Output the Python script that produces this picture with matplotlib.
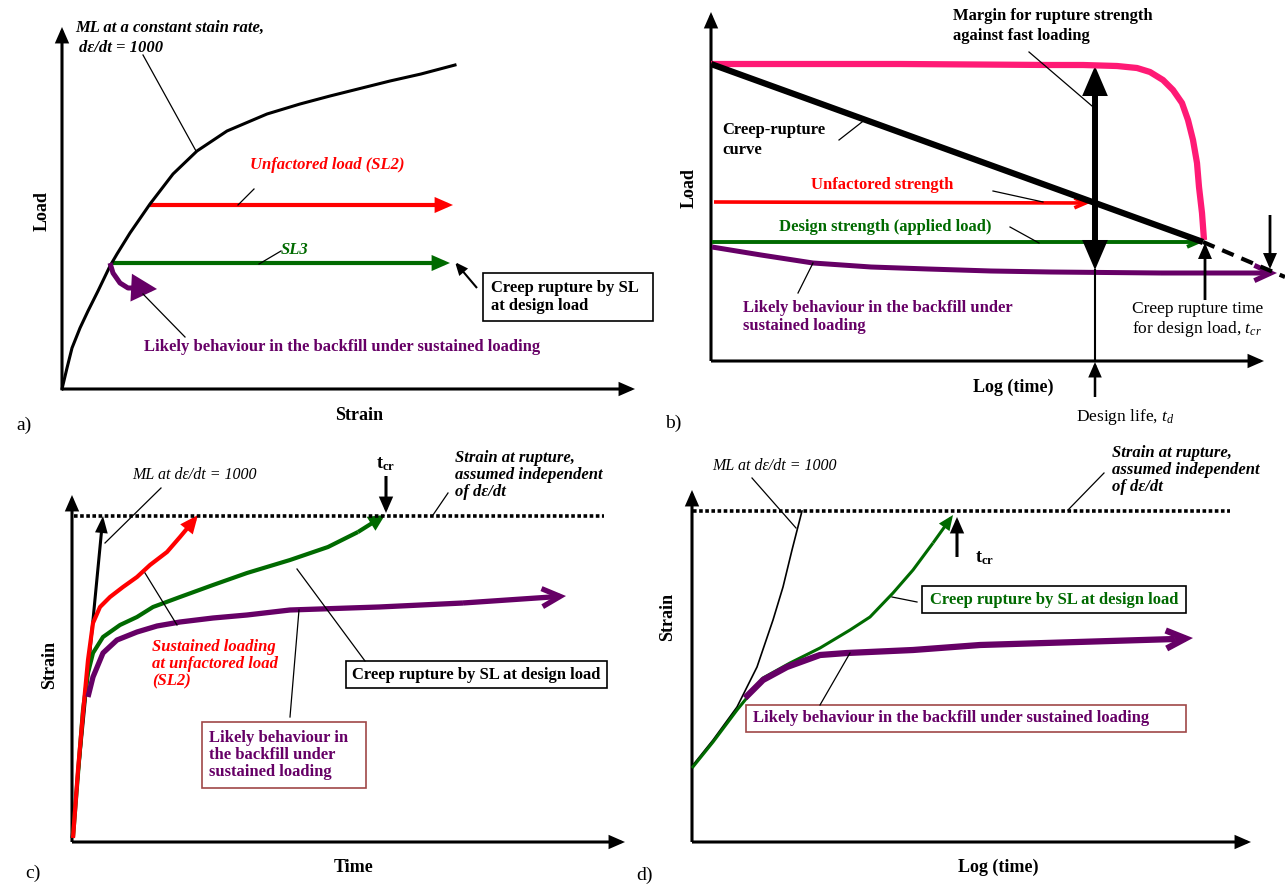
import numpy as np
import matplotlib
matplotlib.use("Agg")
import matplotlib.pyplot as plt
from matplotlib.patches import FancyArrowPatch, ArrowStyle, Rectangle

plt.rcParams['font.family'] = ['Liberation Serif', 'DejaVu Serif']
plt.rcParams['mathtext.fontset'] = 'custom'
plt.rcParams['mathtext.rm'] = 'Liberation Serif'
plt.rcParams['mathtext.it'] = 'Liberation Serif:italic'
plt.rcParams['mathtext.bf'] = 'Liberation Serif:bold'
plt.rcParams['lines.solid_joinstyle'] = 'round'

RED = '#ff0000'
GREEN = '#006a00'
PURPLE = '#660066'
PINK = '#ff1a75'
BOXRED = '#a04848'

# ---- schematic data (units: pixels from each panel's origin, y up) ----
# a) load vs strain
a_ml_strain = [0, 5, 10, 18, 26, 36, 48, 55, 68, 88, 111, 135, 165, 205, 238, 268, 296, 328, 359, 393]
a_ml_load = [0, 21, 41, 61, 78, 98, 123, 135, 156, 185, 215, 238, 258, 275, 285, 293, 300, 308, 315, 324]
a_sl2_strain = [88, 391]
a_sl2_load = [184, 184]
a_sl3_strain = [50, 388]
a_sl3_load = [126, 126]
a_backfill_strain = [48, 51, 58, 66, 76, 95]
a_backfill_load = [126, 116, 106, 101, 101, 100]

# b) load vs log(time)
b_fast_t = [0, 189, 339, 372, 406, 426, 439, 452, 462, 471, 477, 482, 486, 488, 491, 493]
b_fast_load = [297, 297, 296, 296, 295, 293, 289, 281, 271, 258, 241, 221, 198, 174, 148, 121]
b_creep_t = [0, 492]
b_creep_load = [297, 119]
b_creep_ext_t = [492, 574]
b_creep_ext_load = [119, 84]
b_unfact_t = [3, 379]
b_unfact_load = [159, 158]
b_design_t = [1, 492]
b_design_load = [119, 119]
b_backfill_t = [1, 50, 102, 160, 217, 280, 340, 450, 566]
b_backfill_load = [114, 106, 98, 94, 92, 90, 89, 88, 88]
b_td = 384
b_tcr = 494

# c) strain vs time
c_rupture = 326
c_ml_t = [0, 31]
c_ml_strain = [4, 326]
c_sl2_t = [1, 6, 11, 16, 21, 28, 38, 51, 65, 78, 95, 108, 118, 126]
c_sl2_strain = [4, 72, 129, 182, 219, 235, 245, 255, 265, 277, 290, 305, 317, 327]
c_sl3_t = [1, 11, 16, 21, 31, 48, 65, 81, 108, 141, 175, 218, 256, 286, 313]
c_sl3_strain = [5, 132, 169, 189, 205, 217, 225, 235, 245, 257, 269, 282, 295, 310, 327]
c_backfill_t = [16, 21, 31, 45, 65, 85, 108, 141, 175, 218, 307, 391, 494]
c_backfill_strain = [145, 165, 189, 202, 210, 216, 220, 224, 227, 232, 235, 239, 246]
c_tcr = 314

# d) strain vs log(time)
d_rupture = 331
d_ml_t = [1, 21, 45, 65, 81, 91, 100, 110]
d_ml_strain = [77, 102, 135, 175, 222, 255, 292, 331]
d_sl3_t = [0, 21, 45, 71, 98, 128, 158, 178, 201, 221, 241, 261]
d_sl3_strain = [74, 100, 132, 164, 179, 194, 212, 225, 249, 272, 299, 327]
d_backfill_t = [53, 71, 95, 128, 155, 221, 288, 483, 501]
d_backfill_strain = [144, 162, 175, 187, 189, 192, 197, 203, 204]
d_tcr = 265

W, H = 1285, 884
fig = plt.figure(figsize=(W / 100, H / 100), dpi=100)


def panel(ox, oy, w, h):
    ax = fig.add_axes([ox / W, 1 - oy / H, w / W, h / H])
    ax.set_xlim(0, w)
    ax.set_ylim(0, h)
    ax.axis('off')
    ax.patch.set_visible(False)
    return ax


def arrow(ax, p0, p1, color='black', lw=2.0, hl=7, hw=3.5, style='-|>', ls='-'):
    st = ArrowStyle(style, head_length=hl, head_width=hw)
    ax.add_patch(FancyArrowPatch(p0, p1, arrowstyle=st, mutation_scale=1, color=color,
                                 lw=lw, ls=ls, shrinkA=0, shrinkB=0, clip_on=False,
                                 joinstyle='miter', capstyle='butt'))


def curve_arrow(ax, x, y, color, lw, hl, hw, style='-|>'):
    ax.plot(x[:-1], y[:-1], color=color, lw=lw, solid_capstyle='butt', clip_on=False)
    arrow(ax, (x[-2], y[-2]), (x[-1], y[-1]), color=color, lw=lw, hl=hl, hw=hw, style=style)


def leader(ax, p0, p1, lw=0.9):
    ax.plot([p0[0], p1[0]], [p0[1], p1[1]], color='black', lw=lw, clip_on=False)


def axes_arrows(ax, xend, yend):
    arrow(ax, (0, 0), (xend, 0), lw=2.2, hl=8, hw=3.5)
    arrow(ax, (0, 0), (0, yend), lw=2.2, hl=8, hw=3.5)


def txt(ax, x, y, s, size=12, weight='bold', style='normal', color='black', ha='left',
        va='center', **kw):
    return ax.text(x, y, s, fontsize=size, fontweight=weight, fontstyle=style, color=color,
                   ha=ha, va=va, clip_on=False, **kw)


def box(ax, x0, y0, x1, y1, edge='black', lw=1.2):
    ax.add_patch(Rectangle((x0, y0), x1 - x0, y1 - y0, fill=False, ec=edge, lw=lw, clip_on=False))


# ---------------- a) ----------------
ax = panel(62, 389, 575, 377)
axes_arrows(ax, 573, 362)
ax.plot(a_ml_strain, a_ml_load, color='black', lw=2.2, clip_on=False)
curve_arrow(ax, a_sl2_strain, a_sl2_load, RED, 3.0, 8, 3.5)
curve_arrow(ax, a_sl3_strain, a_sl3_load, GREEN, 3.0, 8, 3.5)
curve_arrow(ax, a_backfill_strain, a_backfill_load, PURPLE, 3.6, 13, 7)
txt(ax, 13, 361, 'ML at a constant stain rate,', style='italic')
txt(ax, 17, 341, 'd\u03b5/dt = 1000', style='italic')
leader(ax, (81, 334), (134, 238))
txt(ax, 265, 224, 'Unfactored load (SL2)', style='italic', color=RED, ha='center')
leader(ax, (192, 200), (176, 184))
txt(ax, 219, 139, 'SL3', style='italic', color=GREEN)
leader(ax, (219, 138), (197, 125))
txt(ax, 82, 42, 'Likely behaviour in the backfill under sustained loading', color=PURPLE)
leader(ax, (123, 52), (81, 95))
box(ax, 421, 68, 591, 116)
txt(ax, 429, 92, 'Creep rupture by SL\nat design load', linespacing=1.12)
arrow(ax, (415, 101), (393, 127), lw=1.5, hl=7, hw=3)
txt(ax, -20, 178, 'Load', size=13, rotation=90, ha='center')
txt(ax, 297, -27, 'Strain', size=13, ha='center')
txt(ax, -46, -36, 'a)', size=14, weight='normal')

# ---------------- b) ----------------
ax = panel(711, 361, 574, 361)
axes_arrows(ax, 553, 349)
ax.plot(b_fast_t, b_fast_load, color=PINK, lw=4.5, solid_capstyle='butt', clip_on=False)
ax.plot(b_creep_t, b_creep_load, color='black', lw=4.5, solid_capstyle='butt', clip_on=False)
ax.plot(b_creep_ext_t, b_creep_ext_load, color='black', lw=3.0, ls=(0, (3, 2)), clip_on=False)
curve_arrow(ax, b_unfact_t, b_unfact_load, RED, 2.6, 8, 3.5, style='->')
curve_arrow(ax, b_design_t, b_design_load, GREEN, 2.8, 8, 3.5, style='->')
curve_arrow(ax, b_backfill_t, b_backfill_load, PURPLE, 3.6, 12, 5.5, style='->')
arrow(ax, (b_td, 180), (b_td, 295), lw=4.3, hl=14, hw=6)
arrow(ax, (b_td, 180), (b_td, 91), lw=4.3, hl=14, hw=6)
ax.plot([b_td, b_td], [91, 0], color='black', lw=1.5, clip_on=False)
arrow(ax, (b_td, -36), (b_td, -1), lw=1.8, hl=8, hw=3.5)
arrow(ax, (b_tcr, 61), (b_tcr, 118), lw=2.0, hl=8, hw=3.5)
arrow(ax, (559, 146), (559, 92), lw=2.0, hl=8, hw=3.5)
txt(ax, 242, 335, 'Margin for rupture strength\nagainst fast loading', linespacing=1.25)
leader(ax, (318, 309), (381, 255))
txt(ax, 11, 221, 'Creep-rupture\ncurve', linespacing=1.3)
leader(ax, (128, 221), (151, 239))
txt(ax, 171, 176, 'Unfactored strength', color=RED, ha='center')
leader(ax, (282, 170), (332, 159))
txt(ax, 68, 134, 'Design strength (applied load)', color=GREEN)
leader(ax, (299, 134), (328, 118))
txt(ax, 32, 44, 'Likely behaviour in the backfill under\nsustained loading', color=PURPLE,
    linespacing=1.12)
leader(ax, (102, 98), (87, 68))
txt(ax, 421, 41, 'Creep rupture time\nfor design load, $t_{cr}$', size=12.5, weight='normal',
    linespacing=1.15)
txt(ax, 365, -56, 'Design life, $t_d$', size=12.5, weight='normal')
txt(ax, -22, 173, 'Load', size=13, rotation=90, ha='center')
txt(ax, 302, -26, 'Log (time)', size=13, ha='center')
txt(ax, -46, -62, 'b)', size=14, weight='normal')

# ---------------- c) ----------------
ax = panel(72, 842, 560, 350)
axes_arrows(ax, 553, 347)
ax.plot([2, 532], [c_rupture, c_rupture], color='black', lw=2.6, ls=(0, (1, 0.7)), clip_on=False)
curve_arrow(ax, c_ml_t, c_ml_strain, 'black', 2.2, 8, 3)
curve_arrow(ax, c_sl3_t, c_sl3_strain, GREEN, 3.0, 7, 3.5)
curve_arrow(ax, c_sl2_t, c_sl2_strain, RED, 3.0, 8, 3.5)
curve_arrow(ax, c_backfill_t, c_backfill_strain, PURPLE, 3.8, 13, 6.5, style='->')
arrow(ax, (c_tcr, 366), (c_tcr, 329), lw=2.2, hl=8, hw=3.5)
txt(ax, c_tcr, 378, '$\\mathbf{t}_{\\mathbf{cr}}$', size=13, ha='center')
txt(ax, 60, 367, 'ML at d\u03b5/dt = 1000', size=11.5, weight='normal', style='italic')
leader(ax, (89, 354), (33, 299))
txt(ax, 383, 367, 'Strain at rupture,\nassumed independent\nof d\u03b5/dt', style='italic',
    linespacing=1.1)
leader(ax, (376, 349), (361, 327))
txt(ax, 80, 178, 'Sustained loading\nat unfactored load\n(SL2)', style='italic', color=RED,
    linespacing=1.1)
leader(ax, (73, 269), (105, 217))
box(ax, 274, 154, 535, 181)
txt(ax, 404.5, 167, 'Creep rupture by SL at design load', ha='center')
leader(ax, (225, 273), (293, 181))
box(ax, 130, 54, 294, 120, edge=BOXRED)
txt(ax, 137, 87, 'Likely behaviour in\nthe backfill under\nsustained loading', color=PURPLE,
    linespacing=1.12)
leader(ax, (227, 232), (218, 125))
txt(ax, -22, 177, 'Strain', size=13, rotation=90, ha='center')
txt(ax, 282, -25, 'Time', size=13, ha='center')
txt(ax, -47, -31, 'c)', size=14, weight='normal')

# ---------------- d) ----------------
ax = panel(692, 842, 580, 352)
axes_arrows(ax, 559, 352)
ax.plot([1, 538], [d_rupture, d_rupture], color='black', lw=2.6, ls=(0, (1, 0.7)), clip_on=False)
ax.plot(d_ml_t, d_ml_strain, color='black', lw=1.2, clip_on=False)
curve_arrow(ax, d_sl3_t, d_sl3_strain, GREEN, 2.2, 7, 3)
curve_arrow(ax, d_backfill_t, d_backfill_strain, PURPLE, 4.5, 14, 6.5, style='->')
arrow(ax, (d_tcr, 285), (d_tcr, 325), lw=2.2, hl=8, hw=3.5)
txt(ax, 283, 284, '$\\mathbf{t}_{\\mathbf{cr}}$', size=13)
txt(ax, 20, 376, 'ML at d\u03b5/dt = 1000', size=11.5, weight='normal', style='italic')
leader(ax, (60, 364), (104, 314))
txt(ax, 420, 372, 'Strain at rupture,\nassumed independent\nof d\u03b5/dt', style='italic',
    linespacing=1.1)
leader(ax, (412, 369), (376, 332))
box(ax, 230, 229, 494, 256)
txt(ax, 362, 242, 'Creep rupture by SL at design load', color=GREEN, ha='center')
leader(ax, (200, 245), (225, 240))
box(ax, 54, 110, 494, 137, edge=BOXRED)
txt(ax, 61, 124, 'Likely behaviour in the backfill under sustained loading', color=PURPLE)
leader(ax, (158, 189), (128, 137))
txt(ax, -24, 225, 'Strain', size=13, rotation=90, ha='center')
txt(ax, 306, -25, 'Log (time)', size=13, ha='center')
txt(ax, -56, -33, 'd)', size=14, weight='normal')

fig.savefig('out.png', dpi=100, facecolor='white')
